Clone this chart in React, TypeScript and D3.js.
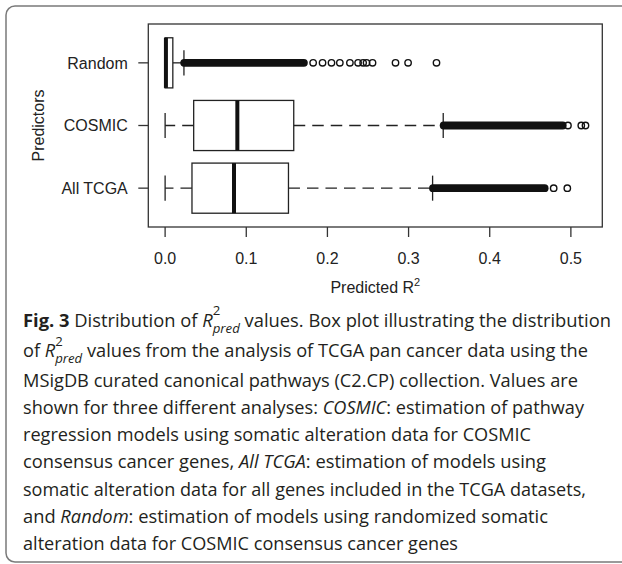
import * as d3 from "d3";

const predictors = ["Random", "COSMIC", "All TCGA"];
const whiskerLow = [0, 0, 0];
const quartile1 = [0, 0.0352, 0.0331];
const medians = [0.001, 0.089, 0.0849];
const quartile3 = [0.0095, 0.1585, 0.152];
const whiskerHigh = [0.0232, 0.3427, 0.3296];
// outliers so packed they merge into one solid band
const denseFrom = [0.0235, 0.3432, 0.3301];
const denseTo = [0.171, 0.49, 0.4677];
const outliersRandom = [
  0.1824, 0.194, 0.205, 0.2153, 0.2277, 0.2378, 0.244, 0.2482, 0.2556,
  0.2839, 0.2994, 0.3344,
];
const outliersCosmic = [0.4964, 0.5128, 0.518];
const outliersAllTcga = [0.4788, 0.4956];
const xTicks = [0, 0.1, 0.2, 0.3, 0.4, 0.5];

type Seg = { text?: string; bold?: boolean; italic?: boolean; rpred?: boolean };

const captionLines: Seg[][] = [
  [
    { text: "Fig. 3", bold: true },
    { text: " Distribution of " },
    { rpred: true },
    { text: " values. Box plot illustrating the distribution" },
  ],
  [
    { text: "of " },
    { rpred: true },
    { text: " values from the analysis of TCGA pan cancer data using the" },
  ],
  [{ text: "MSigDB curated canonical pathways (C2.CP) collection. Values are" }],
  [
    { text: "shown for three different analyses: " },
    { text: "COSMIC", italic: true },
    { text: ": estimation of pathway" },
  ],
  [{ text: "regression models using somatic alteration data for COSMIC" }],
  [
    { text: "consensus cancer genes, " },
    { text: "All TCGA", italic: true },
    { text: ": estimation of models using" },
  ],
  [{ text: "somatic alteration data for all genes included in the TCGA datasets," }],
  [
    { text: "and " },
    { text: "Random", italic: true },
    { text: ": estimation of models using randomized somatic" },
  ],
  [{ text: "alteration data for COSMIC consensus cancer genes" }],
];

const W = 622;
const H = 564;
const plot = { left: 148.3, right: 602.3, top: 24, bottom: 227 };
const captionX = 23;
const captionEnds = [611, 588, 578, 584, 531, 546, 586, 548, 458];
const captionBaselines = [326.5, 357, 387, 414, 441, 468, 495.5, 523, 550];

const ink = "#222";
const axisFont = "'Liberation Sans', Arial, sans-serif";
const captionFont = "'Open Sans', sans-serif";

export default function App() {
  const outliers = [outliersRandom, outliersCosmic, outliersAllTcga];
  // R style 4% padding around the data range
  const dataMax = d3.max(outliers.flat()) as number;
  const pad = dataMax * 0.04;
  const x = d3
    .scaleLinear()
    .domain([0 - pad, dataMax + pad])
    .range([plot.left, plot.right]);
  const y = d3.scaleLinear().domain([0.38, 3.62]).range([plot.bottom, plot.top]);
  const pos = (i: number) => predictors.length - i; // Random on top
  const half = y(0) - y(0.4);
  const staple = half / 2;
  const r = 3.2;

  return (
    <svg
      width={W}
      height={H}
      style={{ position: "absolute", left: 0, top: 0, background: "#fff" }}
    >
      <rect x={6} y={6} width={W + 20} height={556} rx={9} fill="#fff" stroke="#7a7a7a" strokeWidth={1.5} />

      {/* boxes */}
      {predictors.map((p, i) => {
        const cy = y(pos(i));
        return (
          <g key={p} stroke={ink} fill="none">
            <line x1={x(quartile1[i])} x2={x(whiskerLow[i])} y1={cy} y2={cy} strokeWidth={1.3} strokeDasharray="11.5,7" />
            <line x1={x(quartile3[i])} x2={x(whiskerHigh[i])} y1={cy} y2={cy} strokeWidth={1.3} strokeDasharray="11.5,7" />
            <line x1={x(whiskerLow[i])} x2={x(whiskerLow[i])} y1={cy - staple} y2={cy + staple} strokeWidth={1.3} />
            <line x1={x(whiskerHigh[i])} x2={x(whiskerHigh[i])} y1={cy - staple} y2={cy + staple} strokeWidth={1.3} />
            <rect
              x={x(quartile1[i])}
              y={cy - half}
              width={x(quartile3[i]) - x(quartile1[i])}
              height={half * 2}
              fill="#fff"
              strokeWidth={1.3}
            />
            <line x1={x(medians[i])} x2={x(medians[i])} y1={cy - half} y2={cy + half} strokeWidth={4} stroke="#111" />
            <line
              x1={x(denseFrom[i])}
              x2={x(denseTo[i])}
              y1={cy}
              y2={cy}
              stroke="#111"
              strokeWidth={2 * r + 1.4}
              strokeLinecap="round"
            />
            {outliers[i].map((v, j) => (
              <circle key={j} cx={x(v)} cy={cy} r={r} stroke="#111" strokeWidth={1.4} fill="none" />
            ))}
          </g>
        );
      })}

      {/* frame */}
      <rect
        x={plot.left}
        y={plot.top}
        width={plot.right - plot.left}
        height={plot.bottom - plot.top}
        fill="none"
        stroke="#333"
        strokeWidth={1.3}
      />

      {/* x axis */}
      <g fontFamily={axisFont} fontSize={16} fill={ink}>
        {xTicks.map((t) => (
          <g key={t}>
            <line x1={x(t)} x2={x(t)} y1={plot.bottom} y2={plot.bottom + 10} stroke="#333" strokeWidth={1.3} />
            <text x={x(t)} y={plot.bottom + 37} textAnchor="middle">
              {d3.format(".1f")(t)}
            </text>
          </g>
        ))}
        <text x={(plot.left + plot.right) / 2} y={293} textAnchor="middle">
          Predicted R
          <tspan fontSize={11} dy={-7}>2</tspan>
        </text>
      </g>

      {/* y axis */}
      <g fontFamily={axisFont} fontSize={16} fill={ink}>
        {predictors.map((p, i) => (
          <g key={p}>
            <line x1={plot.left - 10} x2={plot.left} y1={y(pos(i))} y2={y(pos(i))} stroke="#333" strokeWidth={1.3} />
            <text x={plot.left - 20.5} y={y(pos(i)) + 5.8} textAnchor="end">
              {p}
            </text>
          </g>
        ))}
        <text
          transform={`translate(44,${(plot.top + plot.bottom) / 2}) rotate(-90)`}
          textAnchor="middle"
        >
          Predictors
        </text>
      </g>

      {/* caption */}
      <g fontFamily={captionFont} fontSize={18} fill="#231f20">
        {captionLines.map((segs, li) => {
          let back = false;
          return (
            <text
              key={li}
              x={captionX}
              y={captionBaselines[li]}
              textLength={captionEnds[li] - captionX}
              lengthAdjust="spacingAndGlyphs"
            >
              {segs.map((s, k) => {
                if (s.rpred) {
                  back = true;
                  return (
                    <tspan key={k}>
                      <tspan fontStyle="italic">R</tspan>
                      <tspan fontSize={13} dy={-11.5}>2</tspan>
                      <tspan fontSize={13} fontStyle="italic" dx={-7.4} dy={17.5}>
                        pred
                      </tspan>
                    </tspan>
                  );
                }
                const dy = back ? -6 : undefined;
                back = false;
                return (
                  <tspan
                    key={k}
                    dy={dy}
                    fontWeight={s.bold ? "bold" : undefined}
                    fontStyle={s.italic ? "italic" : undefined}
                  >
                    {s.text}
                  </tspan>
                );
              })}
            </text>
          );
        })}
      </g>
    </svg>
  );
}
